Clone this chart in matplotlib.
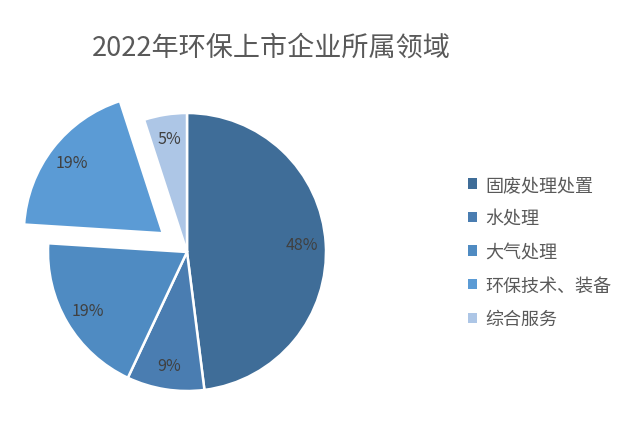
import matplotlib
matplotlib.use('Agg')
import matplotlib.pyplot as plt
from matplotlib.patches import Patch

plt.rcParams['font.family'] = ['Noto Sans CJK SC', 'DejaVu Sans']

# data
categories = ['固废处理处置', '水处理', '大气处理', '环保技术、装备', '综合服务']
shares = [48, 9, 19, 19, 5]
explode = [0, 0, 0, 0.22, 0]
colors = ['#3F6D98', '#4A7DB1', '#4F8BC2', '#5B9BD5', '#ADC6E6']
title = '2022年环保上市企业所属领域'

W, H = 627, 427
fig = plt.figure(figsize=(W / 100, H / 100), dpi=100)

# pie centre (187, 253) px, radius ~139 px
cx, cy, r_px = 187, 253, 139
lim = 1.3
side = 2 * lim * r_px
ax = fig.add_axes([(cx - side / 2) / W, (H - cy - side / 2) / H, side / W, side / H])

wedges, texts, autotexts = ax.pie(
    shares, explode=explode, colors=colors, startangle=90, counterclock=False,
    autopct='%1.0f%%', pctdistance=0.83,
    wedgeprops=dict(edgecolor='white', linewidth=1.8),
    textprops=dict(color='#404040', fontsize=11.5))
ax.set_xlim(-lim, lim)
ax.set_ylim(-lim, lim)
ax.set_aspect('equal')
ax.axis('off')

fig.text(271 / W, 1 - 48 / H, title, ha='center', va='center',
         fontsize=19.5, color='#595959')

handles = [Patch(facecolor=c, edgecolor='none') for c in colors]
fig.legend(handles, categories, loc='center left',
           bbox_to_anchor=(452 / W, 1 - 253 / H), frameon=False,
           fontsize=13, labelcolor='#595959', handlelength=0.5,
           handleheight=0.5, handletextpad=0.45, labelspacing=0.86)

fig.savefig('out.png', dpi=100, facecolor='white')
